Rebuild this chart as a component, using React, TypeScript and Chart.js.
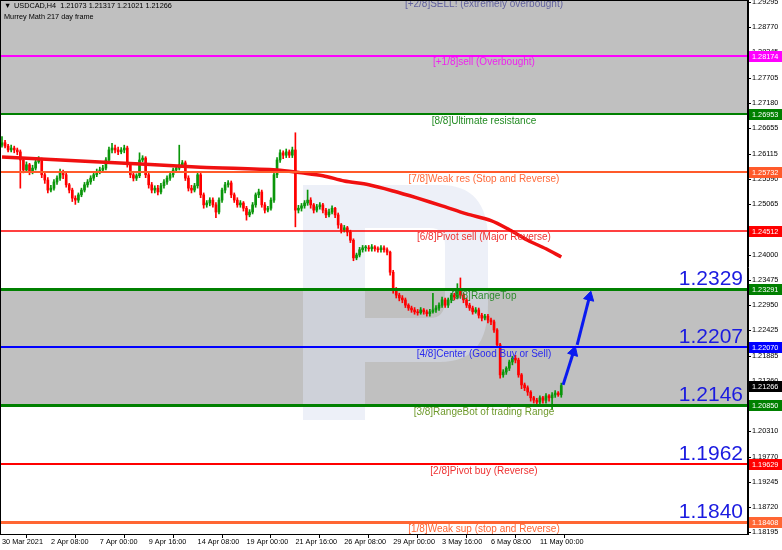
import React, { useEffect, useRef } from 'react';
import { Chart, registerables } from 'chart.js';

Chart.register(...registerables);

// ---- USDCAD H4 candles (bar index 0 = 30 Mar 2021) ----
const opens = [
  1.2630, 1.2635, 1.2628, 1.2620, 1.2624, 1.2620, 1.2616, 1.2599, 1.2578, 1.2589,
  1.2574, 1.2582, 1.2595, 1.2599, 1.2568, 1.2557, 1.2536, 1.2540, 1.2553, 1.2561,
  1.2574, 1.2568, 1.2547, 1.2536, 1.2519, 1.2515, 1.2526, 1.2536, 1.2547, 1.2553,
  1.2561, 1.2568, 1.2574, 1.2578, 1.2582, 1.2599, 1.2620, 1.2624, 1.2620, 1.2616,
  1.2620, 1.2624, 1.2589, 1.2568, 1.2561, 1.2566, 1.2599, 1.2603, 1.2568, 1.2547,
  1.2536, 1.2540, 1.2532, 1.2545, 1.2553, 1.2561, 1.2568, 1.2578, 1.2582, 1.2589,
  1.2593, 1.2561, 1.2540, 1.2536, 1.2545, 1.2568, 1.2526, 1.2505, 1.2509, 1.2515,
  1.2505, 1.2490, 1.2515, 1.2536, 1.2547, 1.2551, 1.2526, 1.2515, 1.2505, 1.2509,
  1.2498, 1.2484, 1.2490, 1.2505, 1.2526, 1.2532, 1.2505, 1.2494, 1.2498, 1.2515,
  1.2568, 1.2599, 1.2614, 1.2609, 1.2616, 1.2609, 1.2620, 1.2494, 1.2498, 1.2503,
  1.2509, 1.2515, 1.2505, 1.2494, 1.2501, 1.2505, 1.2494, 1.2484, 1.2490, 1.2498,
  1.2484, 1.2463, 1.2452, 1.2457, 1.2448, 1.2431, 1.2394, 1.2400, 1.2411, 1.2415,
  1.2415, 1.2413, 1.2417, 1.2413, 1.2411, 1.2415, 1.2411, 1.2406, 1.2364, 1.2327,
  1.2316, 1.2310, 1.2306, 1.2295, 1.2289, 1.2285, 1.2281, 1.2279, 1.2285, 1.2281,
  1.2277, 1.2281, 1.2285, 1.2289, 1.2295, 1.2306, 1.2295, 1.2306, 1.2316, 1.2312,
  1.2327, 1.2316, 1.2306, 1.2295, 1.2289, 1.2281, 1.2285, 1.2274, 1.2268, 1.2272,
  1.2264, 1.2260, 1.2243, 1.2212, 1.2149, 1.2155, 1.2163, 1.2176, 1.2184, 1.2180,
  1.2149, 1.2128, 1.2122, 1.2113, 1.2101, 1.2096, 1.2092, 1.2101, 1.2096, 1.2105,
  1.2101, 1.2107, 1.2111, 1.21073,
];

const highs = [
  1.2648, 1.2640, 1.2632, 1.2630, 1.2628, 1.2624, 1.2620, 1.2603, 1.2595, 1.2592,
  1.2588, 1.2600, 1.2606, 1.2603, 1.2572, 1.2562, 1.2546, 1.2558, 1.2566, 1.2580,
  1.2578, 1.2572, 1.2550, 1.2540, 1.2524, 1.2530, 1.2540, 1.2552, 1.2558, 1.2566,
  1.2574, 1.2580, 1.2584, 1.2588, 1.2604, 1.2626, 1.2634, 1.2630, 1.2626, 1.2625,
  1.2630, 1.2628, 1.2594, 1.2573, 1.2570, 1.2614, 1.2608, 1.2606, 1.2572, 1.2552,
  1.2545, 1.2546, 1.2550, 1.2558, 1.2566, 1.2573, 1.2582, 1.2587, 1.2630, 1.2598,
  1.2597, 1.2566, 1.2546, 1.2550, 1.2574, 1.2572, 1.2530, 1.2514, 1.2520, 1.2520,
  1.2510, 1.2520, 1.2540, 1.2552, 1.2556, 1.2555, 1.2530, 1.2520, 1.2514, 1.2512,
  1.2502, 1.2495, 1.2510, 1.2530, 1.2538, 1.2536, 1.2510, 1.2502, 1.2520, 1.2574,
  1.2604, 1.2620, 1.2618, 1.2622, 1.2620, 1.2626, 1.2656, 1.2504, 1.2508, 1.2514,
  1.2536, 1.2520, 1.2508, 1.2506, 1.2510, 1.2508, 1.2498, 1.2496, 1.2503, 1.2500,
  1.2488, 1.2466, 1.2462, 1.2460, 1.2452, 1.2434, 1.2404, 1.2416, 1.2420, 1.2420,
  1.2420, 1.2422, 1.2420, 1.2417, 1.2420, 1.2419, 1.2415, 1.2408, 1.2368, 1.2332,
  1.2320, 1.2315, 1.2310, 1.2298, 1.2293, 1.2290, 1.2286, 1.2290, 1.2288, 1.2285,
  1.2286, 1.2320, 1.2294, 1.2300, 1.2312, 1.2310, 1.2310, 1.2320, 1.2320, 1.2340,
  1.2352, 1.2320, 1.2310, 1.2299, 1.2293, 1.2290, 1.2289, 1.2278, 1.2276, 1.2276,
  1.2268, 1.2264, 1.2246, 1.2215, 1.2160, 1.2166, 1.2180, 1.2188, 1.2190, 1.2184,
  1.2152, 1.2132, 1.2126, 1.2116, 1.2104, 1.2100, 1.2105, 1.2104, 1.2110, 1.2108,
  1.2112, 1.2116, 1.2114, 1.21317,
];

const lows = [
  1.2626, 1.2624, 1.2616, 1.2616, 1.2614, 1.2610, 1.2540, 1.2572, 1.2574, 1.2568,
  1.2570, 1.2578, 1.2592, 1.2562, 1.2550, 1.2530, 1.2532, 1.2536, 1.2548, 1.2556,
  1.2560, 1.2542, 1.2530, 1.2512, 1.2506, 1.2510, 1.2522, 1.2532, 1.2542, 1.2548,
  1.2556, 1.2564, 1.2570, 1.2574, 1.2578, 1.2594, 1.2614, 1.2614, 1.2610, 1.2612,
  1.2614, 1.2584, 1.2562, 1.2555, 1.2556, 1.2562, 1.2595, 1.2562, 1.2540, 1.2530,
  1.2530, 1.2526, 1.2528, 1.2540, 1.2548, 1.2556, 1.2563, 1.2574, 1.2578, 1.2585,
  1.2556, 1.2534, 1.2530, 1.2532, 1.2540, 1.2520, 1.2498, 1.2500, 1.2503, 1.2500,
  1.2478, 1.2486, 1.2510, 1.2530, 1.2542, 1.2520, 1.2510, 1.2500, 1.2500, 1.2492,
  1.2473, 1.2480, 1.2486, 1.2500, 1.2520, 1.2500, 1.2488, 1.2490, 1.2494, 1.2510,
  1.2562, 1.2594, 1.2602, 1.2604, 1.2604, 1.2604, 1.2459, 1.2488, 1.2492, 1.2498,
  1.2504, 1.2498, 1.2488, 1.2490, 1.2496, 1.2488, 1.2478, 1.2480, 1.2486, 1.2478,
  1.2456, 1.2446, 1.2448, 1.2440, 1.2426, 1.2388, 1.2390, 1.2396, 1.2406, 1.2408,
  1.2408, 1.2408, 1.2408, 1.2406, 1.2406, 1.2406, 1.2400, 1.2358, 1.2320, 1.2310,
  1.2304, 1.2300, 1.2290, 1.2284, 1.2280, 1.2276, 1.2274, 1.2276, 1.2276, 1.2272,
  1.2272, 1.2278, 1.2280, 1.2284, 1.2290, 1.2290, 1.2290, 1.2300, 1.2306, 1.2308,
  1.2310, 1.2300, 1.2290, 1.2284, 1.2276, 1.2278, 1.2268, 1.2262, 1.2264, 1.2258,
  1.2254, 1.2238, 1.2206, 1.2142, 1.2144, 1.2150, 1.2158, 1.2170, 1.2174, 1.2144,
  1.2120, 1.2116, 1.2106, 1.2094, 1.2090, 1.2086, 1.2088, 1.2090, 1.2090, 1.2094,
  1.2076, 1.2102, 1.2104, 1.21021,
];

const closes = [
  1.2635, 1.2628, 1.2620, 1.2624, 1.2620, 1.2616, 1.2599, 1.2578, 1.2589, 1.2574,
  1.2582, 1.2595, 1.2599, 1.2568, 1.2557, 1.2536, 1.2540, 1.2553, 1.2561, 1.2574,
  1.2568, 1.2547, 1.2536, 1.2519, 1.2515, 1.2526, 1.2536, 1.2547, 1.2553, 1.2561,
  1.2568, 1.2574, 1.2578, 1.2582, 1.2599, 1.2620, 1.2624, 1.2620, 1.2616, 1.2620,
  1.2624, 1.2589, 1.2568, 1.2561, 1.2566, 1.2599, 1.2603, 1.2568, 1.2547, 1.2536,
  1.2540, 1.2532, 1.2545, 1.2553, 1.2561, 1.2568, 1.2578, 1.2582, 1.2589, 1.2593,
  1.2561, 1.2540, 1.2536, 1.2545, 1.2568, 1.2526, 1.2505, 1.2509, 1.2515, 1.2505,
  1.2490, 1.2515, 1.2536, 1.2547, 1.2551, 1.2526, 1.2515, 1.2505, 1.2509, 1.2498,
  1.2484, 1.2490, 1.2505, 1.2526, 1.2532, 1.2505, 1.2494, 1.2498, 1.2515, 1.2568,
  1.2599, 1.2614, 1.2609, 1.2616, 1.2609, 1.2620, 1.2494, 1.2498, 1.2503, 1.2509,
  1.2515, 1.2505, 1.2494, 1.2501, 1.2505, 1.2494, 1.2484, 1.2490, 1.2498, 1.2484,
  1.2463, 1.2452, 1.2457, 1.2448, 1.2431, 1.2394, 1.2400, 1.2411, 1.2415, 1.2415,
  1.2413, 1.2417, 1.2413, 1.2411, 1.2415, 1.2411, 1.2406, 1.2364, 1.2327, 1.2316,
  1.2310, 1.2306, 1.2295, 1.2289, 1.2285, 1.2281, 1.2279, 1.2285, 1.2281, 1.2277,
  1.2281, 1.2285, 1.2289, 1.2295, 1.2306, 1.2295, 1.2306, 1.2316, 1.2312, 1.2327,
  1.2316, 1.2306, 1.2295, 1.2289, 1.2281, 1.2285, 1.2274, 1.2268, 1.2272, 1.2264,
  1.2260, 1.2243, 1.2212, 1.2149, 1.2155, 1.2163, 1.2176, 1.2184, 1.2180, 1.2149,
  1.2128, 1.2122, 1.2113, 1.2101, 1.2096, 1.2092, 1.2101, 1.2096, 1.2105, 1.2101,
  1.2107, 1.2111, 1.21073, 1.21266,
];

// ---- moving average (bar index, value) ----
const maBars = [0, 32, 65, 90, 98, 105, 112, 120, 128, 136, 144, 152, 160, 166, 172, 178, 183];
const maValues = [
  1.2605, 1.2595, 1.2584, 1.2578, 1.2572, 1.2566, 1.2555, 1.2547, 1.2534,
  1.2519, 1.2503, 1.2486, 1.2472, 1.2453, 1.2431, 1.2413, 1.2396,
];

// ---- forecast arrows ----
const arrowFromBars = [183.6, 188.2];
const arrowFromPrices = [1.2128, 1.2212];
const arrowToBars = [187.0, 192.2];
const arrowToPrices = [1.2197, 1.2312];

// ---- Murrey Math levels ----
const murreyLevels = [1.29395, 1.28174, 1.26953, 1.25732, 1.24512, 1.23291, 1.22070, 1.20850, 1.19629, 1.18408];
const murreyNames = [
  '[+2/8]SELL! (extremely overbought)',
  '[+1/8]sell (Overbought)',
  '[8/8]Ultimate resistance',
  '[7/8]Weak res (Stop and Reverse)',
  '[6/8]Pivot sell (Major Reverse)',
  '[5/8]RangeTop',
  '[4/8]Center (Good Buy or Sell)',
  '[3/8]RangeBot of trading Range',
  '[2/8]Pivot buy (Reverse)',
  '[1/8]Weak sup (stop and Reverse)',
];
const murreyLineColors = ['#5a5a9a', '#ff00ff', '#008000', '#ff5a2a', '#ff0000', '#008000', '#0000ff', '#008000', '#ff0000', '#ff6633'];
const murreyTextColors = ['#62629e', '#ee22ee', '#238b23', '#ff6a3a', '#ee3333', '#2e8b2e', '#2a2aee', '#6f9a2c', '#ee3333', '#ff6633'];
const murreyLineWidths = [2, 2, 2, 2, 1.5, 3, 2, 3, 2, 3];

// ---- target labels and the level each sits on ----
const targetTexts = ['1.2329', '1.2207', '1.2146', '1.1962', '1.1840'];
const targetAnchorLevels = [1.23291, 1.22070, 1.20850, 1.19629, 1.18408];

// ---- axes ----
const priceMin = 1.18158;
const priceMax = 1.2934;
const priceTicks = [
  1.29295, 1.2877, 1.28245, 1.27705, 1.2718, 1.26655, 1.26115, 1.2559, 1.25065, 1.2454, 1.24,
  1.23475, 1.2295, 1.22425, 1.21885, 1.2136, 1.20835, 1.2031, 1.1977, 1.19245, 1.1872, 1.18195,
];
const timeLabels = [
  '30 Mar 2021', '2 Apr 08:00', '7 Apr 00:00', '9 Apr 16:00', '14 Apr 08:00', '19 Apr 00:00',
  '21 Apr 16:00', '26 Apr 08:00', '29 Apr 00:00', '3 May 16:00', '6 May 08:00', '11 May 00:00',
];
const timeLabelBars = [0, 16, 32, 48, 64, 80, 96, 112, 128, 144, 160, 176];

const symbolTitle = 'USDCAD,H4  1.21073 1.21317 1.21021 1.21266';
const indicatorTitle = 'Murrey Math 217 day frame';

const BULL = '#0a960a';
const BEAR = '#ff0000';
const ZONE = '#c0c0c0';
const TARGET_BLUE = '#1a1ae0';
const AXIS_FONT = 'Tahoma, "Liberation Sans", Arial, sans-serif';

const candleColors = closes.map((c, i) => (c >= opens[i] ? BULL : BEAR));

const murreyPlugin = {
  id: 'murrey',
  beforeDatasetsDraw(chart: any) {
    const { ctx, chartArea: a, scales } = chart;
    const y = scales.y;
    const w = a.right - a.left;
    ctx.save();
    ctx.beginPath();
    ctx.rect(a.left, a.top, w, a.bottom - a.top);
    ctx.clip();
    // shaded zones: above 8/8 and between 5/8 and 3/8
    ctx.fillStyle = ZONE;
    const y8 = y.getPixelForValue(murreyLevels[2]);
    ctx.fillRect(a.left, a.top, w, y8 - a.top);
    const y5 = y.getPixelForValue(murreyLevels[5]);
    const y3 = y.getPixelForValue(murreyLevels[7]);
    ctx.fillRect(a.left, y5, w, y3 - y5);

    // faint broker watermark
    const ox = a.left;
    const oy = a.top;
    ctx.fillStyle = 'rgba(220,225,242,0.5)';
    ctx.beginPath();
    ctx.rect(ox + 303, oy + 185, 62, 235);
    ctx.fill();
    ctx.beginPath();
    ctx.moveTo(ox + 365, oy + 185);
    ctx.lineTo(ox + 440, oy + 185);
    ctx.quadraticCurveTo(ox + 488, oy + 185, ox + 488, oy + 240);
    ctx.lineTo(ox + 488, oy + 305);
    ctx.quadraticCurveTo(ox + 488, oy + 362, ox + 440, oy + 362);
    ctx.lineTo(ox + 365, oy + 362);
    ctx.closePath();
    ctx.moveTo(ox + 365, oy + 228);
    ctx.lineTo(ox + 430, oy + 228);
    ctx.quadraticCurveTo(ox + 445, oy + 228, ox + 445, oy + 245);
    ctx.lineTo(ox + 445, oy + 300);
    ctx.quadraticCurveTo(ox + 445, oy + 318, ox + 430, oy + 318);
    ctx.lineTo(ox + 365, oy + 318);
    ctx.closePath();
    ctx.fill('evenodd');
    ctx.restore();
  },
  afterDatasetsDraw(chart: any) {
    const { ctx, chartArea: a, scales } = chart;
    const y = scales.y;
    const w = a.right - a.left;
    ctx.save();
    ctx.beginPath();
    ctx.rect(a.left, a.top, w, a.bottom - a.top);
    ctx.clip();
    murreyLevels.forEach((v, i) => {
      const lw = murreyLineWidths[i];
      let py = y.getPixelForValue(v);
      py = Math.round(py) + (Math.round(lw) % 2 ? 0.5 : 0);
      ctx.strokeStyle = murreyLineColors[i];
      ctx.lineWidth = lw;
      ctx.beginPath();
      ctx.moveTo(a.left, py);
      ctx.lineTo(a.right, py);
      ctx.stroke();
    });
    ctx.font = '10px "Liberation Sans", Arial, sans-serif';
    ctx.textAlign = 'center';
    ctx.textBaseline = 'top';
    const cx = a.left + 0.647 * w;
    murreyLevels.forEach((v, i) => {
      const py = y.getPixelForValue(v);
      ctx.fillStyle = murreyTextColors[i];
      ctx.fillText(murreyNames[i], cx, py + 2);
    });
    // target labels
    ctx.font = '21px "Liberation Sans", Arial, sans-serif';
    ctx.textAlign = 'right';
    ctx.textBaseline = 'alphabetic';
    ctx.fillStyle = TARGET_BLUE;
    targetTexts.forEach((t, i) => {
      const py = y.getPixelForValue(targetAnchorLevels[i]);
      ctx.fillText(t, a.right - 5, py - 4);
    });
    ctx.restore();
  },
  afterDraw(chart: any) {
    const { ctx, chartArea: a, scales, width } = chart;
    const y = scales.y;
    ctx.save();
    // frame
    ctx.strokeStyle = '#000';
    ctx.lineWidth = 1;
    ctx.strokeRect(a.left + 0.5, a.top + 0.5, a.right - a.left - 1, a.bottom - a.top);

    // level price tags on the price axis
    const tag = (v: number, bg: string) => {
      const py = Math.round(y.getPixelForValue(v));
      ctx.fillStyle = bg;
      ctx.fillRect(a.right + 1, py - 5, width - a.right - 1, 11);
      ctx.fillStyle = '#fff';
      ctx.font = `7.3px ${AXIS_FONT}`;
      ctx.textAlign = 'left';
      ctx.textBaseline = 'middle';
      ctx.fillText(v.toFixed(5), a.right + 4, py + 0.5);
    };
    murreyLevels.forEach((v, i) => {
      if (v <= priceMax && v >= priceMin) tag(v, murreyLineColors[i]);
    });
    tag(closes[closes.length - 1], '#000');

    // header
    ctx.fillStyle = '#000';
    ctx.font = `7.3px ${AXIS_FONT}`;
    ctx.textAlign = 'left';
    ctx.textBaseline = 'middle';
    ctx.fillText('\u25BC', a.left + 4, a.top + 6);
    ctx.fillText(symbolTitle, a.left + 14, a.top + 6);
    ctx.fillText(indicatorTitle, a.left + 4, a.top + 17);
    ctx.restore();
  },
};

function arrowAngle(i: number) {
  return (c: any) => {
    const ch = c.chart;
    const xs = ch.scales.x;
    const ys = ch.scales.y;
    if (!xs || !ys) return 0;
    const dx = xs.getPixelForValue(arrowToBars[i]) - xs.getPixelForValue(arrowFromBars[i]);
    const dy = ys.getPixelForValue(arrowToPrices[i]) - ys.getPixelForValue(arrowFromPrices[i]);
    return (Math.atan2(dx, -dy) * 180) / Math.PI;
  };
}

export default function App() {
  const ref = useRef<HTMLCanvasElement | null>(null);

  useEffect(() => {
    document.body.style.margin = '0';
    const canvas = ref.current;
    if (!canvas) return;

    const arrowSets = arrowFromBars.map((_, i) => ({
      type: 'line' as const,
      data: [
        { x: arrowFromBars[i], y: arrowFromPrices[i] },
        { x: arrowToBars[i], y: arrowToPrices[i] },
      ],
      borderColor: '#0a1af0',
      borderWidth: 3,
      pointRadius: [0, 6],
      pointStyle: 'triangle',
      pointBackgroundColor: '#0a1af0',
      pointBorderColor: '#0a1af0',
      pointBorderWidth: 1,
      pointRotation: arrowAngle(i),
      clip: false,
      order: 0,
    }));

    const chart = new Chart(canvas, {
      type: 'bar',
      data: {
        datasets: [
          ...arrowSets,
          {
            type: 'line',
            data: maBars.map((b, i) => ({ x: b, y: maValues[i] })),
            borderColor: '#f01010',
            borderWidth: 3.5,
            pointRadius: 0,
            tension: 0.3,
            order: 1,
          },
          {
            type: 'bar',
            data: opens.map((o, i) => ({ x: i, y: [o, closes[i]] })),
            backgroundColor: candleColors,
            barThickness: 2,
            minBarLength: 1,
            grouped: false,
            order: 2,
          },
          {
            type: 'bar',
            data: lows.map((l, i) => ({ x: i, y: [l, highs[i]] })),
            backgroundColor: candleColors,
            barThickness: 1,
            grouped: false,
            order: 3,
          },
        ] as any,
      },
      options: {
        responsive: false,
        animation: false,
        devicePixelRatio: 1,
        events: [],
        layout: { padding: 0, autoPadding: false },
        plugins: {
          legend: { display: false },
          tooltip: { enabled: false },
        },
        scales: {
          x: {
            type: 'linear',
            min: -0.654,
            max: 244.1,
            offset: false,
            afterBuildTicks: (s: any) => {
              s.ticks = timeLabelBars.map((v) => ({ value: v }));
            },
            afterFit: (s: any) => {
              s.height = 16;
              s.paddingLeft = 0;
              s.paddingRight = 0;
            },
            ticks: {
              callback: (_v: any, idx: number) => timeLabels[idx],
              align: 'start',
              autoSkip: false,
              maxRotation: 0,
              padding: 0,
              color: '#000',
              font: { family: AXIS_FONT, size: 7.3 },
            },
            grid: { drawOnChartArea: false, tickLength: 4, color: '#000' },
            border: { display: true, color: '#000' },
          },
          y: {
            type: 'linear',
            position: 'right',
            min: priceMin,
            max: priceMax,
            afterBuildTicks: (s: any) => {
              s.ticks = priceTicks.map((v) => ({ value: v }));
            },
            afterFit: (s: any) => {
              s.width = 34;
              s.paddingTop = 0;
              s.paddingBottom = 0;
            },
            ticks: {
              callback: (v: any) => Number(v).toFixed(5),
              autoSkip: false,
              padding: 1,
              color: '#000',
              font: { family: AXIS_FONT, size: 7.3 },
            },
            grid: { drawOnChartArea: false, tickLength: 3, color: '#000' },
            border: { display: true, color: '#000' },
          },
        },
      } as any,
      plugins: [murreyPlugin],
    });

    return () => chart.destroy();
  }, []);

  return (
    <div style={{ width: 782, height: 550, background: '#fff' }}>
      <canvas ref={ref} width={782} height={550} style={{ display: 'block' }} />
    </div>
  );
}
